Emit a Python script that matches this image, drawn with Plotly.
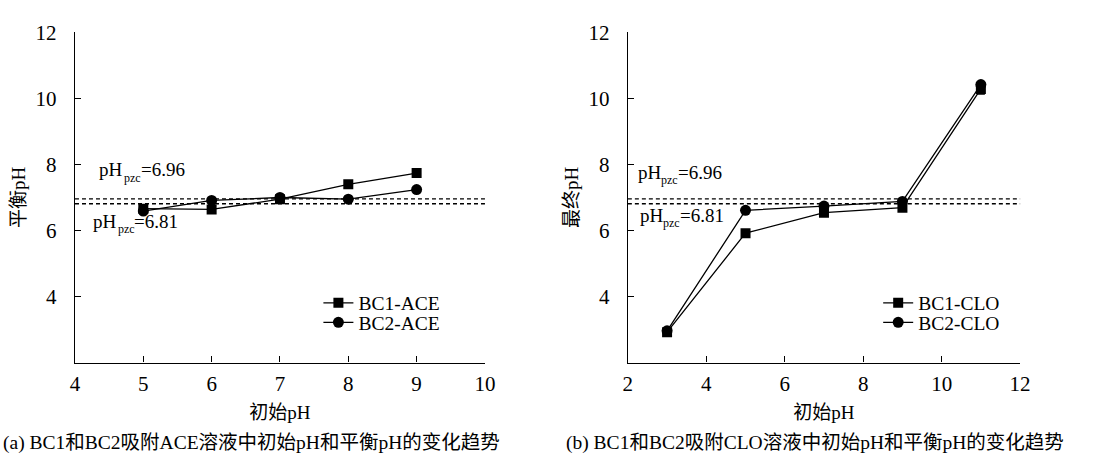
import plotly.graph_objects as go

# ACE panel data
ace_x = [5, 6, 7, 8, 9]
bc1_ace = [6.66, 6.64, 6.95, 7.40, 7.74]
bc2_ace = [6.59, 6.91, 7.00, 6.95, 7.24]

# CLO panel data
clo_x = [3, 5, 7, 9, 11]
bc1_clo = [2.92, 5.92, 6.54, 6.69, 10.29]
bc1_clo_err = [0.05, 0.05, 0.05, 0.05, 0.16]
bc2_clo = [2.96, 6.61, 6.74, 6.88, 10.42]
bc2_clo_err = [0.05, 0.05, 0.05, 0.05, 0.08]

# point of zero charge levels
pzc_values = [6.96, 6.81]

FONT = '"Liberation Serif", "Times New Roman", "Noto Sans CJK SC", serif'
BLACK = "#000000"

fig = go.Figure()


def add_series(x, y, name, symbol, xa, ya, legend, err=None):
    fig.add_trace(go.Scatter(
        x=x, y=y, name=name, mode="lines+markers",
        line=dict(color=BLACK, width=1.3),
        marker=dict(symbol=symbol, size=10 if symbol == "square" else 11, color=BLACK),
        error_y=(dict(type="data", array=err, color=BLACK, thickness=1.2, width=4)
                 if err is not None else None),
        xaxis=xa, yaxis=ya, legend=legend,
    ))


add_series(ace_x, bc1_ace, "BC1-ACE", "square", "x", "y", "legend")
add_series(ace_x, bc2_ace, "BC2-ACE", "circle", "x", "y", "legend2")
add_series(clo_x, bc1_clo, "BC1-CLO", "square", "x2", "y2", "legend3", bc1_clo_err)
add_series(clo_x, bc2_clo, "BC2-CLO", "circle", "x2", "y2", "legend4", bc2_clo_err)

# dashed pzc reference lines on both panels
for xr, yr in (("x domain", "y"), ("x2 domain", "y2")):
    for v in pzc_values:
        fig.add_shape(type="line", xref=xr, yref=yr, x0=0, x1=1, y0=v, y1=v,
                      line=dict(color=BLACK, width=1.3, dash="4px,3px"))

axis_common = dict(
    showline=True, linecolor=BLACK, linewidth=1.3, mirror=False,
    ticks="inside", ticklen=6, tickwidth=1.2, tickcolor=BLACK,
    showgrid=False, zeroline=False,
    tickfont=dict(family=FONT, size=21, color=BLACK),
)
title_font = dict(family=FONT, size=19, color=BLACK)


def legend_box(px, py):
    # one single-entry legend placed at pixel (px, py) from the top-left corner
    return dict(x=px / 1106, y=1 - py / 457, xanchor="left", yanchor="middle",
                bgcolor="rgba(0,0,0,0)", borderwidth=0,
                font=dict(family=FONT, size=19.5, color=BLACK),
                tracegroupgap=0, itemwidth=30)


fig.update_layout(
    width=1106, height=457,
    margin=dict(l=0, r=0, t=0, b=0),
    paper_bgcolor="white", plot_bgcolor="white",
    font=dict(family=FONT, color=BLACK),
    xaxis=dict(domain=[71 / 1106, 487 / 1106], range=[4, 10], dtick=1,
               ticklabelstandoff=2,
               title=dict(text="初始pH", font=title_font, standoff=10),
               anchor="y", **axis_common),
    yaxis=dict(domain=[1 - 360 / 457, 1 - 21 / 457], range=[2, 12],
               tickvals=[4, 6, 8, 10, 12], ticklabelstandoff=13,
               title=dict(text="平衡pH", font=title_font, standoff=4),
               anchor="x", **axis_common),
    xaxis2=dict(domain=[632 / 1106, 1030 / 1106], range=[2, 12], dtick=2,
                ticklabelstandoff=2,
                title=dict(text="初始pH", font=title_font, standoff=10),
                anchor="y2", **axis_common),
    yaxis2=dict(domain=[1 - 360 / 457, 1 - 21 / 457], range=[2, 12],
                tickvals=[4, 6, 8, 10, 12], ticklabelstandoff=13,
                title=dict(text="最终pH", font=title_font, standoff=4),
                anchor="x2", **axis_common),
    legend=legend_box(318, 299),
    legend2=legend_box(318, 319),
    legend3=legend_box(886, 299),
    legend4=legend_box(886, 319),
    showlegend=True,
)

# pzc labels: "pH", subscript "pzc" and "=value" set as separate pieces
labels = [
    ("x", "y", 4.317, 7.84, "=6.96", 25, 42),
    ("x", "y", 4.231, 6.28, "=6.81", 25, 41),
    ("x2", "y2", 2.20, 7.76, "=6.96", 23, 40),
    ("x2", "y2", 2.25, 6.46, "=6.81", 23, 40),
]
for xr, yr, x, y, tail, sub_dx, tail_dx in labels:
    common = dict(xref=xr, yref=yr, x=x, y=y, showarrow=False,
                  xanchor="left", yanchor="middle")
    fig.add_annotation(text="pH", font=dict(family=FONT, size=19, color=BLACK), **common)
    fig.add_annotation(text="pzc", xshift=sub_dx, yshift=-8,
                       font=dict(family=FONT, size=12, color=BLACK), **common)
    fig.add_annotation(text=tail, xshift=tail_dx,
                       font=dict(family=FONT, size=19, color=BLACK), **common)

# panel captions
captions = [
    (250, "(a) BC1和BC2吸附ACE溶液中初始pH和平衡pH的变化趋势"),
    (822, "(b) BC1和BC2吸附CLO溶液中初始pH和平衡pH的变化趋势"),
]
for cx, t in captions:
    fig.add_annotation(xref="paper", yref="paper", x=cx / 1106, y=1 - 443 / 457,
                       text=t, showarrow=False, xanchor="center", yanchor="middle",
                       font=dict(family=FONT, size=19.5, color=BLACK))

fig.write_html("out.html")
